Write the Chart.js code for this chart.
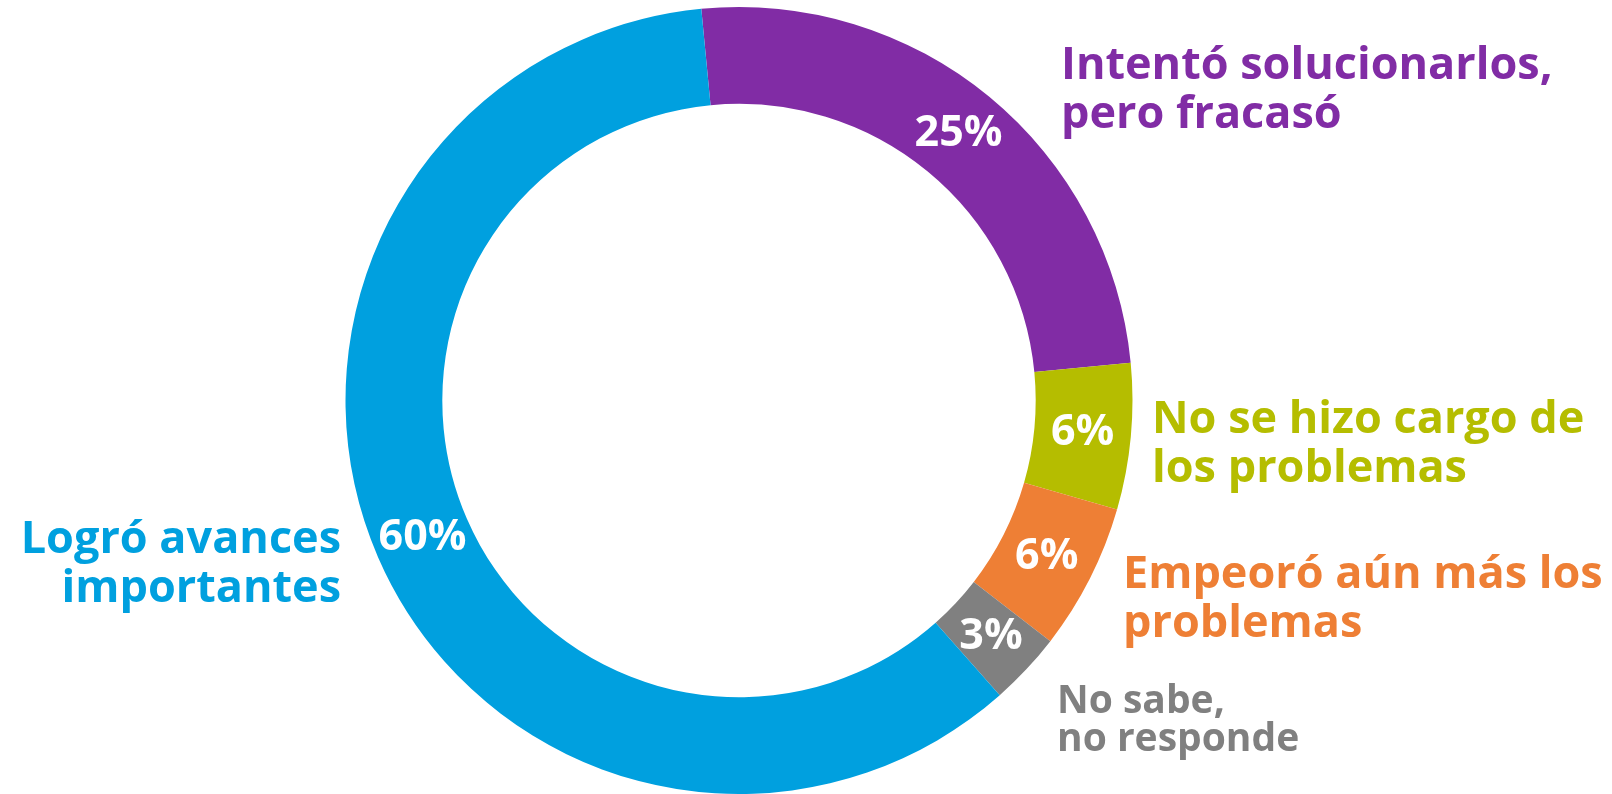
<!DOCTYPE html>
<html>
<head>
<meta charset="utf-8">
<script src="https://cdn.jsdelivr.net/npm/chart.js@4.4.1/dist/chart.umd.min.js"></script>
<style>
    body { margin: 0; background: #ffffff; }
    #wrap { width: 1612px; height: 794px; }
</style>
</head>
<body>
<div id="wrap"><canvas id="chartDonut" width="1612" height="794"></canvas></div>
<script>
const categories = [
    "Intentó solucionarlos, pero fracasó",
    "No se hizo cargo de los problemas",
    "Empeoró aún más los problemas",
    "No sabe, no responde",
    "Logró avances importantes",
];
const values = [25, 6, 6, 3, 60];
const valueLabels = ["25%", "6%", "6%", "3%", "60%"];
const labelLines = [
    ["Intentó solucionarlos,", "pero fracasó"],
    ["No se hizo cargo de", "los problemas"],
    ["Empeoró aún más los", "problemas"],
    ["No sabe,", "no responde"],
    ["Logró avances", "importantes"],
];
const colors = ["#812ca5", "#b5bd00", "#ee7f35", "#808080", "#00a0df"];

// where each category name sits next to the ring
const namePlaces = [
    { x: 1061, y: 79, align: "left", size: 45, gap: 49 },
    { x: 1152, y: 433, align: "left", size: 45, gap: 49 },
    { x: 1123, y: 588, align: "left", size: 45, gap: 49 },
    { x: 1057, y: 713, align: "left", size: 39, gap: 38 },
    { x: 341, y: 553, align: "right", size: 45, gap: 49 },
];

const sliceText = {
    id: "sliceText",
    afterDatasetsDraw(chart) {
        const ctx = chart.ctx;
        const arcs = chart.getDatasetMeta(0).data;
        ctx.save();
        ctx.textAlign = "center";
        ctx.textBaseline = "middle";
        ctx.fillStyle = "#ffffff";
        ctx.font = "700 43px 'Open Sans'";
        arcs.forEach((arc, i) => {
            const p = arc.tooltipPosition();
            ctx.fillText(valueLabels[i], p.x, p.y);
        });
        ctx.textBaseline = "alphabetic";
        namePlaces.forEach((pl, i) => {
            ctx.fillStyle = colors[i];
            ctx.textAlign = pl.align;
            ctx.font = "700 " + pl.size + "px 'Open Sans'";
            labelLines[i].forEach((line, j) => {
                ctx.fillText(line, pl.x, pl.y + j * pl.gap);
            });
        });
        ctx.restore();
    },
};

new Chart(document.getElementById("chartDonut"), {
    type: "doughnut",
    data: {
        labels: categories,
        datasets: [
            {
                data: values,
                backgroundColor: colors,
                borderWidth: 0,
            },
        ],
    },
    options: {
        responsive: false,
        animation: false,
        rotation: -5.5,
        cutout: "75.4%",
        layout: { padding: { top: 7, bottom: 0, left: 0, right: 134 } },
        plugins: {
            legend: { display: false },
            tooltip: { enabled: false },
        },
    },
    plugins: [sliceText],
});
</script>
</body>
</html>
